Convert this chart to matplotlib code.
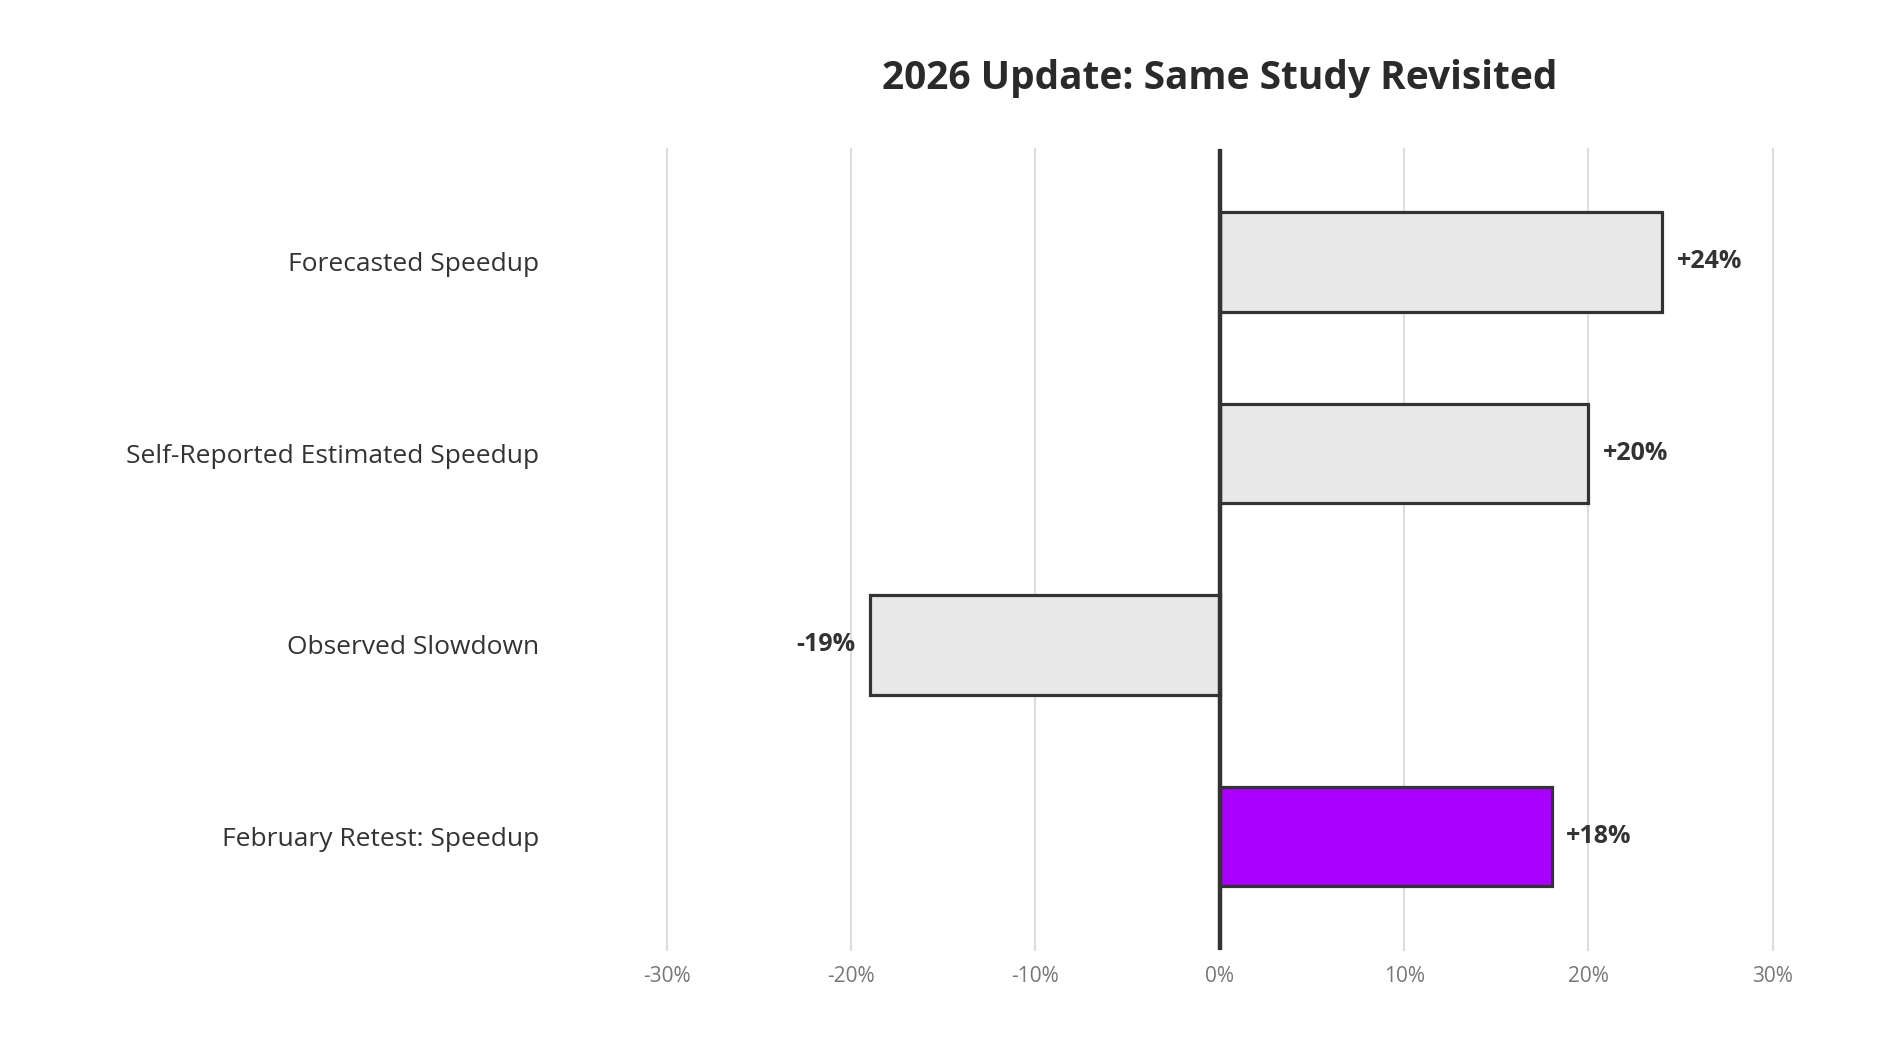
import matplotlib
matplotlib.use("Agg")
import matplotlib.pyplot as plt

categories = ["Forecasted Speedup", "Self-Reported Estimated Speedup", "Observed Slowdown", "February Retest: Speedup"]
values = [24, 20, -19, 18]
labels = ["+24%", "+20%", "-19%", "+18%"]
colors = ["#E8E8E8", "#E8E8E8", "#E8E8E8", "#AA00FF"]
ticks = [-30, -20, -10, 0, 10, 20, 30]
tick_labels = ["-30%", "-20%", "-10%", "0%", "10%", "20%", "30%"]

plt.rcParams['font.family'] = ['Open Sans', 'DejaVu Sans']
fig = plt.figure(figsize=(19, 10.4), dpi=100)
ax = fig.add_axes([0.351, 0.087, 0.582, 0.770])
y = list(range(len(categories)))
ax.barh(y, values, height=0.52, color=colors, edgecolor="#333333", linewidth=2.3, zorder=3)
ax.set_xlim(-30, 30)
ax.set_ylim(3.59, -0.59)
for t in ticks:
    ax.axvline(t, color="#DDDDDD", lw=1.5, zorder=1, clip_on=False)
ax.axvline(0, color="#333333", lw=3.2, zorder=4)
for yi, v, l in zip(y, values, labels):
    off = 0.8 if v >= 0 else -0.8
    ax.text(v + off, yi, l, ha="left" if v >= 0 else "right", va="center",
            fontsize=18, fontweight="bold", color="#333333")
ax.set_xticks(ticks)
ax.set_xticklabels(tick_labels, fontsize=15, color="#777777")
ax.set_yticks(y)
ax.set_yticklabels(categories, fontsize=19, color="#333333")
ax.tick_params(length=0)
ax.tick_params(axis="y", pad=92)
ax.tick_params(axis="x", pad=12)
for s in ax.spines.values():
    s.set_visible(False)
fig.text(0.642, 0.925, "2026 Update: Same Study Revisited", ha="center", va="center",
         fontsize=28, fontweight="bold", color="#2a2a2a")
fig.savefig("out.png", facecolor="white")
